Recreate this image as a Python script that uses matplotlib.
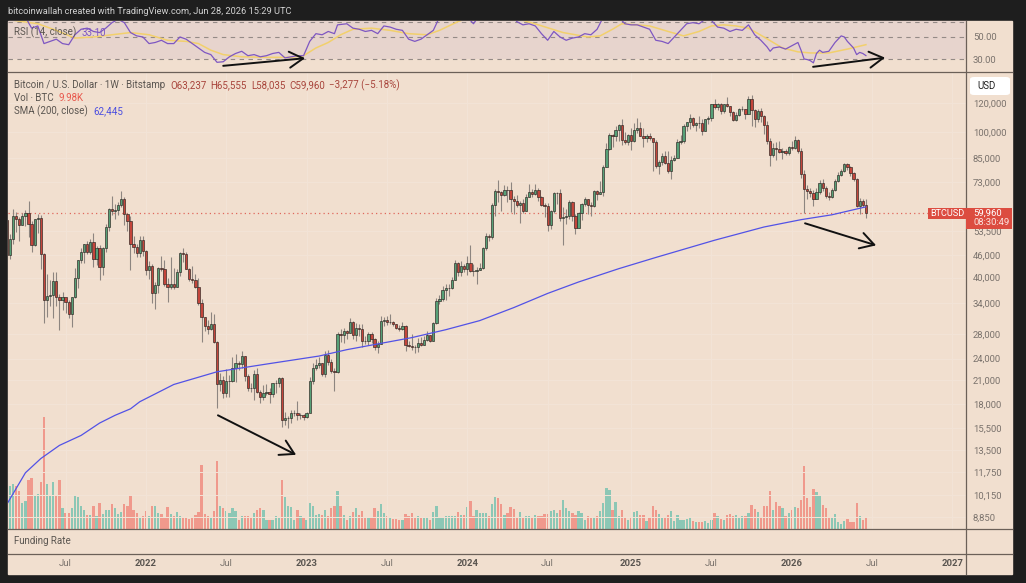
import numpy as np
import pandas as pd
import matplotlib
matplotlib.use("Agg")
import matplotlib.pyplot as plt
from matplotlib.lines import Line2D
from matplotlib.patches import Rectangle, FancyBboxPatch
from matplotlib.ticker import NullLocator

plt.rcParams['font.family'] = ['Roboto', 'DejaVu Sans']

W, H = 1026, 583
BG = '#f1dfcf'
DARK = '#1e1e1e'
FRAME = '#6b6058'
GREEN, RED = '#57a077', '#c4453b'
VGREEN, VRED = '#8cc7b5', '#f0998c'
GREY = '#5a5550'
AXGREY = '#7a726c'

# weekly candles (Bitstamp BTC/USD, in thousands of USD), first week starts Mon 2021-02-22
first_week = pd.Timestamp('2021-02-22')
first_open = 57.4

close_2021 = [46.2, 50.9, 59.0, 58.0, 55.8, 58.9, 60.0, 56.2, 49.1, 57.8, 58.2, 46.4, 34.7, 35.7, 35.8,
              39.1, 35.5, 34.7, 35.3, 34.2, 31.8, 35.4, 39.9, 44.6, 47.1, 49.3, 47.1, 49.9, 44.9, 48.3,
              42.8, 48.2, 55.0, 61.5, 61.0, 61.3, 63.3, 65.5, 59.7, 57.2, 49.4, 48.4, 46.7, 50.8, 47.3]
high_2021 = [57.6, 52.6, 61.8, 60.6, 58.6, 60.0, 61.3, 64.9, 57.0, 58.0, 59.6, 59.5, 46.6, 40.9, 39.5,
             41.3, 41.3, 36.0, 36.6, 35.1, 34.7, 35.5, 42.6, 44.8, 48.1, 49.4, 50.5, 51.0, 52.9, 48.8,
             49.0, 48.5, 56.0, 62.0, 67.0, 63.7, 64.2, 69.0, 66.3, 59.9, 59.1, 51.9, 49.5, 52.0, 52.0]
low_2021 = [44.9, 45.0, 49.3, 53.3, 50.5, 55.6, 55.5, 51.5, 47.0, 48.8, 52.9, 42.1, 30.0, 31.2, 33.4,
            31.0, 33.4, 28.8, 32.7, 32.1, 31.0, 29.3, 35.2, 37.5, 43.8, 43.9, 46.3, 46.5, 42.8, 43.4,
            39.5, 40.7, 47.0, 53.7, 59.5, 58.0, 59.4, 62.3, 55.6, 53.5, 42.0, 46.8, 45.5, 45.6, 45.7]

close_2022 = [41.9, 43.1, 36.3, 38.2, 42.4, 42.2, 38.3, 37.7, 38.4, 37.8, 41.3, 46.8, 46.4, 42.2, 39.7,
              39.5, 37.6, 34.0, 31.3, 29.4, 29.0, 29.9, 26.6, 20.5, 21.0, 19.3, 20.8, 20.8, 22.6, 23.3,
              23.2, 24.4, 21.5, 20.0, 19.9, 21.8, 19.4, 18.9, 19.3, 19.4, 19.2, 20.6, 20.6, 21.2, 16.3,
              16.5, 16.5, 17.1, 17.1, 16.8, 16.8, 16.6]
high_2022 = [47.5, 44.4, 43.5, 38.9, 42.7, 45.8, 44.8, 39.8, 45.4, 42.6, 42.3, 46.9, 48.2, 47.0, 42.4,
             42.9, 40.8, 39.8, 35.0, 31.3, 30.6, 32.2, 31.7, 26.8, 21.9, 21.5, 22.5, 21.6, 24.3, 24.7,
             23.6, 25.2, 24.4, 21.8, 20.6, 22.4, 22.7, 19.7, 20.3, 20.4, 19.9, 20.6, 21.0, 21.4, 21.4,
             17.2, 16.7, 17.4, 17.4, 18.4, 17.0, 16.9]
low_2022 = [40.6, 39.7, 34.0, 32.9, 36.2, 41.7, 38.0, 34.3, 37.2, 37.2, 37.6, 40.5, 44.0, 42.1, 39.2,
            38.6, 37.4, 33.7, 26.7, 28.6, 28.0, 28.8, 26.5, 17.6, 19.6, 18.7, 18.8, 18.9, 20.7, 20.7,
            22.4, 22.7, 20.8, 19.6, 19.5, 18.5, 19.3, 18.1, 18.5, 19.1, 18.2, 18.9, 19.3, 20.1, 15.6,
            15.8, 15.5, 16.0, 16.7, 16.3, 16.4, 16.3]

close_2023 = [17.1, 20.9, 22.7, 23.0, 23.3, 21.8, 24.6, 23.5, 22.2, 22.0, 28.0, 27.9, 28.5, 28.3, 30.3,
              27.8, 29.2, 28.9, 26.9, 26.8, 28.1, 27.1, 25.9, 26.3, 30.5, 30.6, 30.2, 30.3, 29.8, 29.2,
              29.0, 29.4, 26.1, 26.0, 25.9, 25.8, 26.5, 26.2, 27.0, 27.9, 26.9, 30.0, 34.5, 35.0, 37.1,
              37.4, 37.4, 39.5, 43.8, 41.4, 43.0, 42.2]
high_2023 = [17.2, 21.4, 23.4, 23.9, 24.3, 23.4, 25.2, 25.3, 23.9, 22.6, 28.4, 28.9, 29.2, 28.7, 31.0,
             30.5, 30.0, 29.9, 29.8, 27.6, 28.4, 28.4, 27.4, 26.8, 31.4, 31.3, 31.4, 31.8, 30.4, 29.9,
             29.7, 30.2, 29.6, 26.8, 28.1, 26.1, 27.4, 27.5, 27.6, 28.6, 27.9, 30.3, 35.2, 35.9, 38.0,
             38.4, 38.4, 40.2, 44.7, 44.0, 44.3, 43.7]
low_2023 = [16.5, 17.2, 20.4, 22.3, 22.7, 21.5, 21.4, 23.1, 21.9, 19.6, 21.9, 26.6, 26.5, 27.2, 28.3,
            27.1, 26.9, 27.7, 25.8, 26.4, 26.1, 26.5, 25.4, 24.8, 26.3, 29.5, 29.7, 29.9, 29.5, 28.9,
            28.6, 28.8, 25.2, 25.8, 25.4, 24.9, 25.0, 26.0, 26.1, 26.9, 26.6, 26.9, 29.9, 33.9, 34.5,
            34.8, 35.6, 37.2, 39.5, 40.3, 40.5, 41.5]

close_2024 = [43.9, 41.7, 41.6, 42.0, 42.6, 48.3, 52.1, 51.7, 63.1, 68.9, 68.4, 67.2, 69.6, 69.4, 65.7,
              64.9, 63.1, 63.9, 60.9, 66.3, 68.5, 67.5, 69.6, 66.6, 63.2, 62.7, 55.8, 60.8, 68.2, 68.2,
              58.1, 58.7, 58.9, 64.2, 58.9, 54.8, 59.9, 63.6, 65.6, 63.0, 62.9, 69.0, 67.9, 68.7, 80.4,
              89.8, 97.9, 97.3, 101.1, 104.4, 95.2, 93.7, 98.3]
high_2024 = [45.9, 49.0, 43.6, 42.8, 43.8, 48.5, 52.8, 52.6, 64.0, 70.0, 73.8, 68.9, 71.8, 71.3, 72.8,
             66.8, 67.2, 64.7, 65.5, 67.5, 71.9, 70.0, 72.0, 70.2, 66.8, 63.8, 63.8, 61.4, 68.5, 68.7,
             70.0, 62.5, 61.6, 65.0, 64.9, 59.8, 60.6, 64.1, 66.5, 65.6, 64.5, 69.4, 69.5, 73.6, 81.5,
             93.4, 99.5, 98.7, 104.0, 105.2, 108.3, 99.9, 98.9]
low_2024 = [40.6, 41.5, 40.3, 38.5, 41.9, 42.3, 47.7, 50.5, 50.9, 59.0, 64.5, 60.8, 66.9, 64.5, 60.6,
            59.7, 62.5, 56.5, 60.2, 60.8, 66.6, 66.6, 67.1, 64.9, 62.6, 58.5, 53.5, 54.3, 59.9, 63.5,
            57.2, 49.0, 56.1, 57.8, 57.2, 52.5, 54.6, 57.6, 62.7, 59.8, 58.9, 62.4, 65.1, 67.5, 66.8,
            80.2, 89.4, 90.8, 94.5, 94.3, 92.2, 92.5, 91.9]

close_2025 = [94.5, 101.3, 102.6, 97.7, 96.5, 97.6, 96.3, 94.2, 80.7, 82.6, 86.1, 82.3, 78.4, 83.7, 85.2,
              93.7, 94.3, 104.2, 106.4, 109.0, 104.6, 105.7, 105.6, 100.9, 108.4, 109.2, 119.1, 117.3,
              119.4, 114.2, 119.3, 117.5, 113.5, 108.2, 111.2, 115.3, 115.3, 112.2, 123.5, 115.1, 108.6,
              114.5, 110.5, 104.7, 94.4, 86.8, 90.4, 90.0, 88.2, 88.5, 87.8, 91.0]
high_2025 = [102.5, 106.0, 109.6, 106.4, 102.5, 98.8, 99.5, 96.5, 95.0, 84.0, 87.5, 88.8, 88.5, 86.1, 86.5,
             95.8, 97.9, 104.9, 106.6, 112.0, 110.3, 106.8, 110.6, 108.9, 108.5, 110.5, 119.5, 123.2,
             120.2, 119.8, 119.5, 124.5, 117.6, 113.9, 113.4, 116.7, 117.9, 115.4, 125.7, 126.2, 115.9,
             116.0, 116.4, 111.2, 107.0, 96.6, 93.1, 94.0, 94.5, 90.5, 90.0, 91.5]
low_2025 = [89.3, 93.7, 99.5, 97.5, 91.2, 94.1, 94.9, 78.2, 80.0, 76.6, 81.2, 81.6, 77.2, 74.5, 83.1,
            85.1, 92.8, 93.4, 100.7, 102.1, 103.1, 100.4, 102.7, 98.2, 100.9, 105.2, 107.5, 115.7,
            114.7, 112.0, 112.6, 116.8, 110.7, 107.3, 107.3, 110.6, 114.0, 108.6, 111.9, 104.0, 103.5,
            106.6, 106.3, 98.9, 93.0, 80.6, 85.6, 84.0, 87.5, 84.5, 86.5, 86.8]

close_2026 = [90.5, 95.0, 89.0, 77.0, 70.0, 68.8, 68.0, 65.8, 68.5, 72.5, 70.5, 67.0, 66.5, 69.5, 73.5,
              76.5, 78.5, 81.6, 80.2, 77.3, 74.5, 62.9, 64.8, 63.237, 59.96]
high_2026 = [94.5, 97.5, 95.5, 90.5, 79.0, 71.5, 70.5, 69.5, 70.5, 74.0, 74.5, 71.0, 68.5, 70.5, 74.5,
             78.0, 79.5, 82.5, 82.5, 81.0, 77.8, 74.8, 66.0, 65.6, 65.555]
low_2026 = [89.5, 90.0, 87.5, 75.0, 60.0, 65.5, 66.5, 62.8, 65.5, 67.5, 69.0, 66.0, 65.0, 66.0, 69.0,
            73.0, 76.0, 78.0, 79.0, 76.0, 73.5, 62.3, 59.6, 62.3, 58.035]

# weekly volume, thousands of BTC
vol_2021 = [50.0, 35.4, 37.4, 35.4, 31.3, 21.6, 23.0, 40.4, 42.3, 27.4, 29.1, 39.0, 93.5, 37.4, 28.2,
            38.8, 28.2, 40.4, 17.4, 13.3, 13.3, 17.4, 28.0, 26.6, 18.8, 15.5, 11.9, 11.9, 18.8, 10.5,
            21.6, 12.7, 15.5, 16.0, 21.0, 17.2, 12.7, 13.9, 21.0, 18.8, 28.5, 15.5, 13.3, 9.1, 10.5]
vol_2022 = [14.7, 10.5, 18.8, 19.3, 13.3, 12.7, 9.1, 18.3, 12.7, 10.5, 13.9, 11.0, 10.0, 9.1, 8.3,
            9.7, 11.9, 13.9, 53.4, 12.7, 10.5, 9.1, 14.7, 56.2, 19.3, 17.4, 14.7, 13.3, 17.4, 14.7,
            7.7, 10.5, 11.0, 11.0, 10.0, 13.3, 16.0, 17.4, 16.0, 7.7, 7.2, 7.7, 10.5, 10.0, 40.4,
            26.6, 19.3, 18.3, 7.7, 15.5, 11.0, 9.1]
vol_2023 = [7.2, 21.6, 18.8, 11.9, 12.7, 11.9, 15.5, 10.5, 17.4, 18.8, 31.3, 18.8, 11.9, 7.7, 11.0,
            13.9, 17.4, 11.9, 14.7, 9.1, 9.1, 9.1, 17.4, 14.7, 21.0, 13.3, 10.5, 10.0, 8.3, 8.3,
            7.7, 7.2, 12.7, 10.5, 13.3, 9.1, 10.5, 9.1, 9.1, 10.0, 7.7, 13.9, 18.8, 9.7, 9.7,
            11.0, 11.0, 10.5, 11.0, 13.9, 11.4, 11.4]
vol_2024 = [18.0, 23.0, 11.0, 16.0, 13.3, 13.3, 13.3, 10.5, 21.0, 26.3, 25.5, 20.8, 11.9, 13.3, 18.0,
            16.6, 9.7, 13.9, 9.1, 11.0, 10.5, 9.7, 11.9, 11.0, 10.5, 12.5, 12.7, 14.7, 16.0, 13.3,
            16.0, 24.3, 17.4, 14.7, 13.3, 11.9, 14.7, 13.3, 7.7, 10.5, 8.9, 9.7, 11.0, 15.2, 21.6,
            33.8, 32.6, 15.5, 22.4, 10.5, 16.0, 10.0, 7.2]
vol_2025 = [9.7, 13.9, 15.2, 11.9, 11.9, 6.4, 9.7, 19.3, 15.5, 12.7, 8.9, 10.0, 11.9, 15.2, 6.4,
            11.9, 7.7, 7.7, 8.3, 9.7, 6.4, 6.1, 5.6, 6.1, 6.9, 5.0, 7.7, 13.3, 11.0, 8.3,
            7.7, 11.9, 12.7, 10.5, 11.9, 9.1, 10.5, 10.5, 13.3, 19.7, 16.6, 13.9, 9.7, 19.3, 19.3,
            31.3, 15.5, 22.2, 18.8, 17.4, 10.5, 13.3]
vol_2026 = [15.5, 18.0, 17.4, 24.3, 52.5, 25.7, 18.3, 33.4, 30.7, 27.6, 20.2, 17.4, 10.0, 10.0, 12.7,
            5.6, 4.4, 6.4, 8.3, 5.6, 5.6, 21.6, 10.5, 7.7, 9.98]

# SMA(200, close): (week number, value in k USD)
sma_points = [(0, 9.6), (6, 11.7), (11, 12.8), (17, 13.9), (24, 14.8), (30, 16.0), (35, 16.8),
              (40, 17.5), (43, 18.3), (54, 20.4), (68, 22.1), (84, 23.2), (101, 24.4), (110, 25.4),
              (131, 27.4), (142, 28.8), (153, 30.5), (164, 33.1), (175, 36.2), (185, 38.9),
              (198, 42.3), (210, 45.4), (229, 50.6), (245, 55.0), (257, 57.6), (267, 59.4), (278, 62.445)]

rsi_points = [(0, 70), (3, 66), (6, 68), (8, 58), (10, 60), (12, 44), (14, 46), (16, 48), (18, 44),
              (20, 43), (22, 52), (24, 57), (26, 58), (28, 55), (30, 54), (32, 58), (34, 63), (36, 66),
              (38, 63), (40, 54), (42, 51), (44, 50), (46, 44), (48, 45), (50, 47), (52, 44), (54, 44),
              (56, 50), (58, 48), (60, 44), (62, 40), (64, 36), (66, 34), (68, 27), (70, 27.5), (72, 32),
              (74, 35), (76, 37), (78, 33), (80, 34), (82, 32), (84, 33), (86, 35), (88, 36), (90, 31),
              (92, 32), (94, 33), (96, 33), (98, 46), (100, 53), (102, 52), (104, 55), (106, 53),
              (107, 61), (110, 62), (112, 58), (114, 57), (116, 55), (118, 56), (120, 53), (122, 60),
              (124, 59), (126, 57), (128, 56), (130, 48), (132, 46), (134, 48), (136, 52), (138, 56),
              (140, 68), (144, 74), (148, 72), (150, 65), (151, 62), (153, 70), (158, 82), (163, 72),
              (165, 64), (167, 61), (169, 62), (171, 60), (173, 53), (175, 47), (177, 55), (179, 50),
              (181, 47), (183, 49), (185, 50), (187, 53), (189, 52), (191, 57), (193, 68), (196, 74),
              (198, 68), (200, 62), (202, 61), (204, 61), (206, 59), (208, 57), (210, 47), (212, 46),
              (214, 44), (216, 50), (218, 56), (220, 62), (222, 63), (224, 62), (226, 66), (228, 65),
              (230, 59), (232, 58), (234, 55), (236, 57), (238, 56), (240, 61), (242, 52), (244, 47),
              (246, 41), (247, 37), (248, 40), (250, 41), (252, 39), (254, 42), (256, 45), (257, 38),
              (258, 30), (259, 29.5), (260, 28.5), (261, 26.5), (262, 35), (263, 38), (264, 36),
              (266, 37), (268, 45), (270, 51), (271, 50), (272, 46), (274, 40), (275, 34), (276, 36),
              (277, 35), (278, 33.1)]
rsi_ma_points = [(0, 66), (10, 62), (16, 56), (22, 49), (28, 50), (34, 52), (40, 54), (46, 52), (52, 47),
                 (58, 46), (62, 44), (66, 38), (70, 34), (76, 32), (84, 31.5), (92, 31.5), (96, 33),
                 (100, 40), (104, 45), (108, 52), (112, 57), (118, 58), (124, 56), (130, 53), (136, 52),
                 (140, 56), (146, 64), (150, 68), (160, 72), (166, 66), (172, 61), (180, 54), (188, 50),
                 (192, 51), (196, 57), (199, 62), (204, 61), (208, 60), (214, 55), (219, 51), (224, 55),
                 (228, 60), (232, 61), (236, 60), (240, 58), (245, 50), (251, 40), (256, 36.5),
                 (260, 35.5), (266, 35.5), (272, 39), (278, 43)]

# right-axis price levels (k USD); the 62,000 level sits under the last-price label
price_ticks = [8.85, 10.15, 11.75, 13.5, 15.5, 18, 21, 24, 28, 34, 40, 46, 53.5, 73, 85, 100, 120]
time_ticks = ['2021-07-01', '2022-01-01', '2022-07-01', '2023-01-01', '2023-07-01', '2024-01-01',
              '2024-07-01', '2025-01-01', '2025-07-01', '2026-01-01', '2026-07-01', '2027-01-01']
time_labels = ['Jul', '2022', 'Jul', '2023', 'Jul', '2024', 'Jul', '2025', 'Jul', '2026', 'Jul', '2027']

# hand-drawn arrows: ((week, value) start, (week, value) end)
price_arrows = [((68.3, 16.8), (93.6, 13.1)), ((258.3, 56.3), (281.3, 49.0))]
rsi_arrows = [((70.0, 23.8), (96.5, 30.7)), ((260.9, 22.9), (284.2, 31.2))]

last_price = close_2026[-1]

close = close_2021 + close_2022 + close_2023 + close_2024 + close_2025 + close_2026
high = high_2021 + high_2022 + high_2023 + high_2024 + high_2025 + high_2026
low = low_2021 + low_2022 + low_2023 + low_2024 + low_2025 + low_2026
vol = vol_2021 + vol_2022 + vol_2023 + vol_2024 + vol_2025 + vol_2026
opens = [first_open] + close[:-1]

c = np.array(close)
o = np.array(opens)
hi = np.array(high)
lo = np.array(low)
weeks = np.arange(len(c))
up = c >= o

fig = plt.figure(figsize=(W / 100, H / 100), dpi=100, facecolor=DARK)


def box(x0, y0, x1, y1):
    return [x0 / W, 1 - y1 / H, (x1 - x0) / W, (y1 - y0) / H]


fig.add_artist(Rectangle((8 / W, 1 - 574 / H), 1004 / W, 553 / H, transform=fig.transFigure,
                         color=BG, zorder=-10))

axv = fig.add_axes(box(8, 72, 966, 529))
ax = fig.add_axes(box(8, 72, 966, 529), sharex=axv)
ax_rsi = fig.add_axes(box(8, 21, 966, 72), sharex=axv)
ax_t = fig.add_axes(box(8, 554, 966, 574), sharex=axv)
for a in (axv, ax, ax_rsi, ax_t):
    a.set_facecolor('none')
    for s in a.spines.values():
        s.set_visible(False)
    a.tick_params(axis='x', length=0, labelbottom=False)

# bar i sits at pixel 6.9 + 3.09 * i
axv.set_xlim((8 - 6.9) / 3.09, (966 - 6.9) / 3.09)
tick_pos = np.ceil((pd.to_datetime(time_ticks) - first_week).days / 7)
axv.set_xticks(tick_pos)

# volume
axv.bar(weeks, vol, width=0.74, color=np.where(up, VGREEN, VRED), linewidth=0)
axv.set_ylim(0, 380)
axv.set_yticks([])

# price
ax.set_yscale('log')
ax.set_ylim(8.21, 146.0)
ax.yaxis.set_minor_locator(NullLocator())
ax.set_yticks(price_ticks)
ax.set_yticklabels([f'{round(v * 1000):,}' for v in price_ticks])
ax.yaxis.tick_right()
ax.tick_params(axis='y', length=0, pad=5, labelsize=6.8, labelcolor=AXGREY)
ax.grid(True, color='#f3e4d7', lw=0.7)

ax.vlines(weeks, lo, hi, color='#8d8580', lw=0.8, zorder=2)
ax.bar(weeks, np.abs(c - o), bottom=np.minimum(o, c), width=0.74,
       color=np.where(up, GREEN, RED), edgecolor='#2a2320', linewidth=0.45, zorder=3)
sx, sy = zip(*sma_points)
ax.plot(sx, sy, color='#5252e6', lw=0.9, zorder=4)
ax.axhline(last_price, color='#e0675b', lw=0.9, ls=(0, (1, 2.5)), zorder=1)

for (x0, y0), (x1, y1) in price_arrows:
    ax.annotate('', xy=(x1, y1), xytext=(x0, y0),
                arrowprops=dict(arrowstyle='->,head_length=0.55,head_width=0.32', color='#111111',
                                lw=1.4, shrinkA=0, shrinkB=0, mutation_scale=18), zorder=6)

# RSI pane
ax_rsi.set_ylim(18.2, 64.5)
ax_rsi.axhspan(30, 64.5, color='#7e57c2', alpha=0.08, lw=0)
for lvl in (63.9, 50, 30):
    ax_rsi.axhline(lvl, color='#948a86', lw=0.8, ls=(0, (4, 4)))
mx, my = zip(*rsi_ma_points)
ax_rsi.plot(mx, my, color='#f2d06c', lw=1.1)
rx, ry = zip(*rsi_points)
ax_rsi.plot(rx, ry, color='#7e57c2', lw=0.9)
ax_rsi.set_yticks([50, 30])
ax_rsi.set_yticklabels(['50.00', '30.00'])
ax_rsi.yaxis.tick_right()
ax_rsi.tick_params(axis='y', length=0, pad=5, labelsize=6.8, labelcolor=AXGREY)
for (x0, y0), (x1, y1) in rsi_arrows:
    ax_rsi.annotate('', xy=(x1, y1), xytext=(x0, y0),
                    arrowprops=dict(arrowstyle='->,head_length=0.55,head_width=0.32', color='#111111',
                                    lw=1.4, shrinkA=0, shrinkB=0, mutation_scale=18),
                    annotation_clip=False)

# time axis labels
ax_t.set_yticks([])
for p, lab in zip(tick_pos, time_labels):
    bold = lab != 'Jul'
    ax_t.text(p, 0.5, lab, transform=ax_t.get_xaxis_transform(), ha='center', va='center',
              fontsize=6.8, color=GREY if bold else AXGREY, fontweight='bold' if bold else 'normal')


# pane separators
def hline(y, x0=8, x1=1012):
    fig.add_artist(Line2D([x0 / W, x1 / W], [1 - y / H, 1 - y / H], transform=fig.transFigure,
                          color=FRAME, lw=0.9))


hline(72)
hline(529)
hline(554)
fig.add_artist(Line2D([966 / W, 966 / W], [1 - 21 / H, 1 - 574 / H], transform=fig.transFigure,
                      color=FRAME, lw=0.9))

# header and legends
r = fig.canvas.get_renderer()


def row(x, y, parts, size=7.0):
    for s, col, gap in parts:
        t = fig.text(x / W, 1 - y / H, s, color=col, fontsize=size, ha='left', va='center')
        x += t.get_window_extent(renderer=r).width + gap


row(8, 11, [('bitcoinwallah created with TradingView.com, Jun 28, 2026 15:29 UTC', '#d2d2d2', 0)], size=6.7)
row(14, 32.5, [('RSI (14, close)', GREY, 5), ('33.10', '#7e57c2', 0)])
ohlc = '#a8443b'
row(14, 85, [('Bitcoin / U.S. Dollar · 1W · Bitstamp', GREY, 5), ('O63,237', ohlc, 4),
             ('H65,555', ohlc, 4), ('L58,035', ohlc, 4), ('C59,960', ohlc, 4),
             ('\u22123,277 (\u22125.18%)', ohlc, 0)])
row(14, 98, [('Vol · BTC', GREY, 5), ('9.98K', '#e8574c', 0)])
row(14, 111, [('SMA (200, close)', GREY, 5), ('62,445', '#4b4ee0', 0)])
row(14, 541, [('Funding Rate', GREY, 0)])

# USD box
fig.add_artist(FancyBboxPatch((970 / W, 1 - 95 / H), 40 / W, 18 / H, transform=fig.transFigure,
                              boxstyle='round,pad=0,rounding_size=0.004', fc='white', ec='none', zorder=5))
fig.text(977 / W, 1 - 86 / H, 'USD', fontsize=7, color='#222222', ha='left', va='center', zorder=6)

# last price labels
py = H - ax.transData.transform((0, last_price))[1]
lab_red = '#dc4c40'
fig.add_artist(Rectangle((928 / W, 1 - (py + 5.5) / H), 38 / W, 11 / H, transform=fig.transFigure,
                         fc=lab_red, ec='none', zorder=5))
fig.text(947 / W, 1 - py / H, 'BTCUSD', fontsize=6.6, color='white', ha='center', va='center', zorder=6)
fig.add_artist(Rectangle((966 / W, 1 - (py + 16) / H), 46 / W, 21.5 / H, transform=fig.transFigure,
                         fc=lab_red, ec='none', zorder=5))
fig.text(973 / W, 1 - py / H, f'{round(last_price * 1000):,}', fontsize=6.8, color='white',
         ha='left', va='center', zorder=6)
fig.text(973 / W, 1 - (py + 9.5) / H, '08:30:49', fontsize=6.8, color='#fbe3df',
         ha='left', va='center', zorder=6)

fig.savefig('out.png', dpi=100, facecolor=DARK)
